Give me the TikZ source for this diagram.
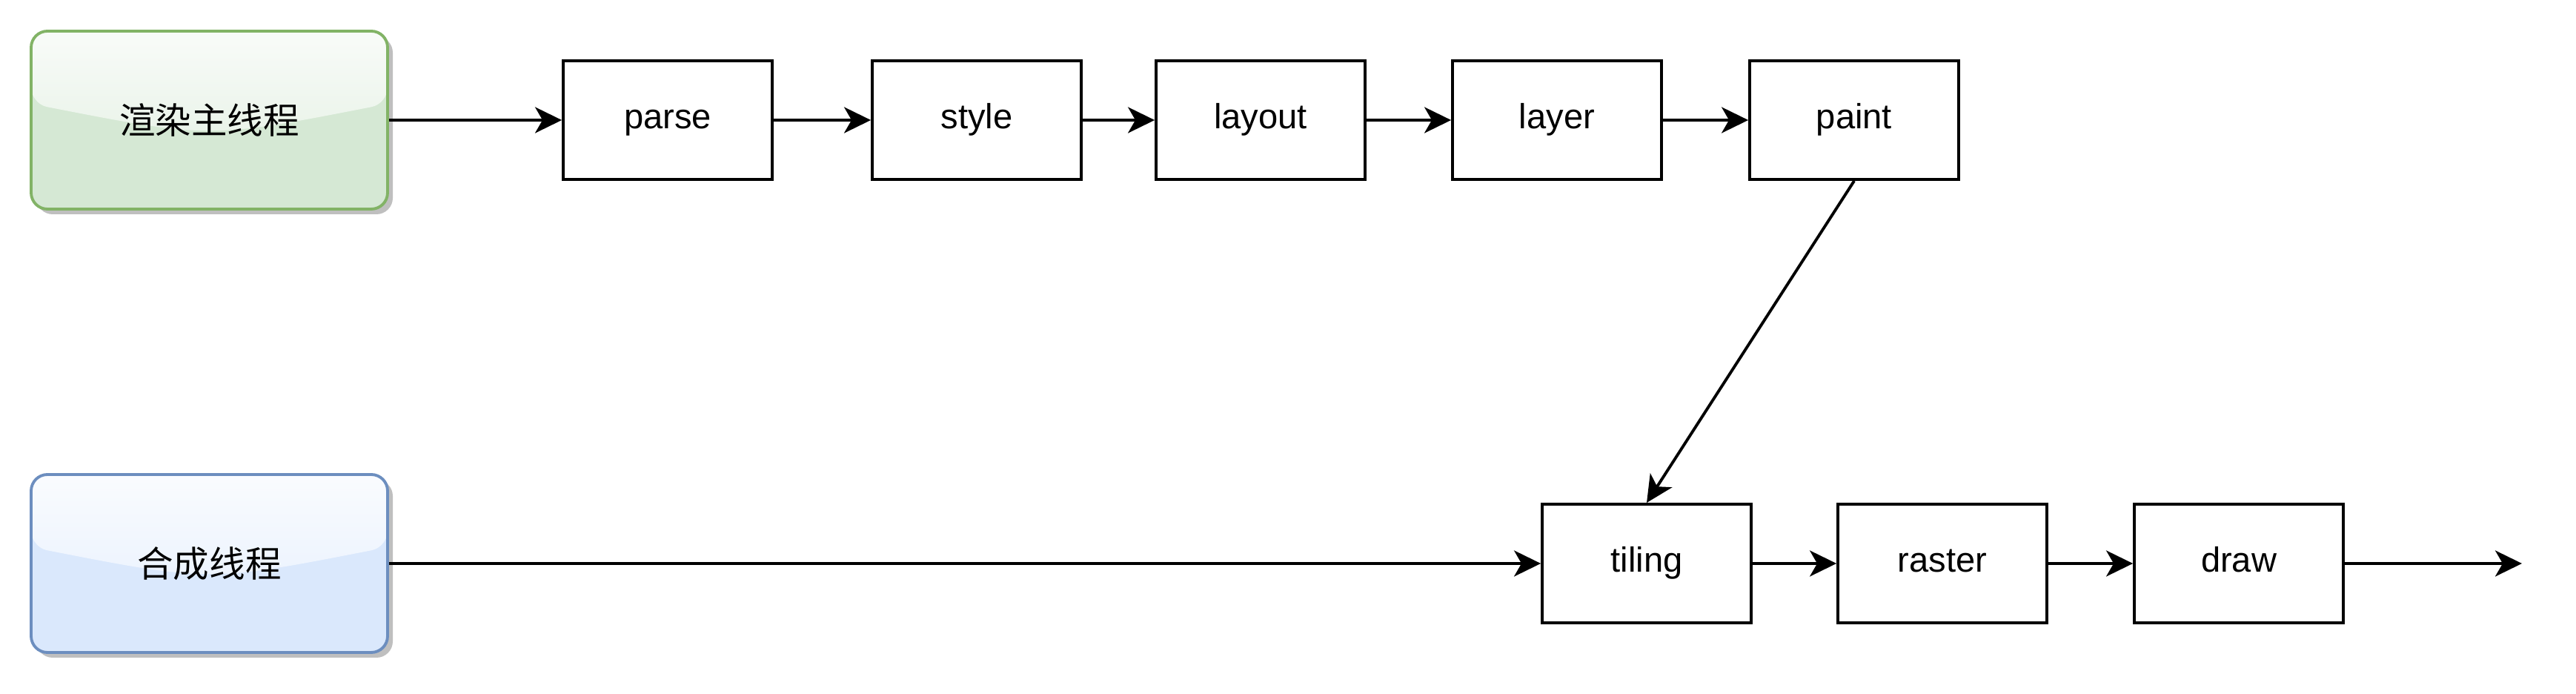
\documentclass[tikz,border=0pt]{standalone}
\usepackage{fontspec}
\setmainfont{Liberation Sans}
\newfontfamily\cjk{Noto Sans CJK SC}
\usepackage{xcolor}
\usepackage{tikz}
\usetikzlibrary{arrows.meta, shadows}

\definecolor{mainfill}{HTML}{D5E8D4}
\definecolor{mainline}{HTML}{82B366}
\definecolor{compfill}{HTML}{DAE8FC}
\definecolor{compline}{HTML}{6C8EBF}

\begin{document}
\begin{tikzpicture}[
    every node/.style={font=\fontsize{13.4}{16}\selectfont},
    stage/.style={draw, line width=1.1pt, minimum width=2.82cm, minimum height=1.60cm, inner sep=0pt,
        text height=0.84em, text depth=0.2em},
    thread/.style 2 args={fill=#1, draw=#2, line width=1.1pt, rounded corners=0.22cm,
        minimum width=4.81cm, minimum height=2.40cm, font=\cjk\fontsize{13.8}{16}\selectfont,
        drop shadow={shadow xshift=0.07cm, shadow yshift=-0.07cm, fill=black!25, opacity=1},
        path picture={\shade[top color=#1!15!white, bottom color=#1!75!white]
            (path picture bounding box.north west) -- ([yshift=-0.98cm]path picture bounding box.north west)
            .. controls ([yshift=-1.45cm]path picture bounding box.north) .. ([yshift=-0.98cm]path picture bounding box.north east)
            -- (path picture bounding box.north east) -- cycle;}},
    flow/.style={-{Stealth[length=0.36cm, width=0.35cm, inset=0.1cm]}, line width=1.1pt}]
    \useasboundingbox (0,0) rectangle (34.76,9.36);

    \node[thread={mainfill}{mainline}] (main) at (2.825,7.74) {渲染主线程};
    \node[thread={compfill}{compline}] (comp) at (2.825,1.76) {合成线程};

    \node[stage] (parse)  at (9.01,7.74)  {parse};
    \node[stage] (style)  at (13.18,7.74) {style};
    \node[stage] (layout) at (17.01,7.74) {layout};
    \node[stage] (layer)  at (21.01,7.74) {layer};
    \node[stage] (paint)  at (25.02,7.74) {paint};

    \node[stage] (tiling) at (22.22,1.76) {tiling};
    \node[stage] (raster) at (26.21,1.76) {raster};
    \node[stage] (drawop) at (30.21,1.76) {draw};
    \coordinate (out) at (34.03,1.76);

    \draw[flow] (main) -- (parse);
    \draw[flow] (parse) -- (style);
    \draw[flow] (style) -- (layout);
    \draw[flow] (layout) -- (layer);
    \draw[flow] (layer) -- (paint);
    \draw[flow] (paint.south) -- (tiling.north);
    \draw[flow] (comp) -- (tiling);
    \draw[flow] (tiling) -- (raster);
    \draw[flow] (raster) -- (drawop);
    \draw[flow] (drawop) -- (out);
\end{tikzpicture}
\end{document}
